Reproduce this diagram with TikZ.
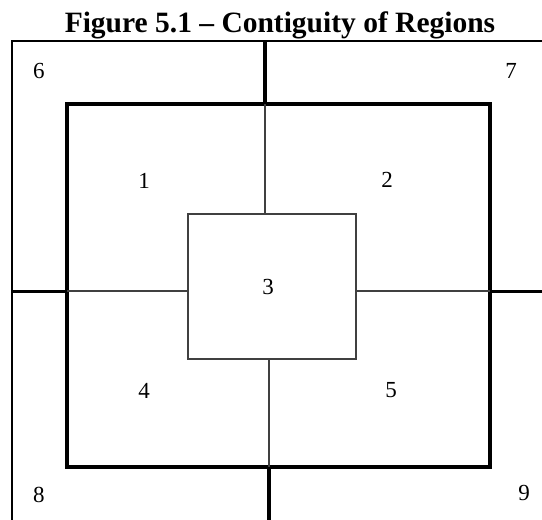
\documentclass[tikz,border=0pt]{standalone}
\usepackage{fontspec}
\setmainfont{Liberation Serif}
\begin{document}
\begin{tikzpicture}[x=1pt,y=-1pt,
  outerline/.style={line width=2.2pt,black},
  midline/.style={line width=3.6pt,black},
  innerline/.style={line width=1.6pt,black!75},
  lbl/.style={inner sep=0pt,font=\fontsize{23}{23}\selectfont}]
\useasboundingbox (0,0) rectangle (542,520);
\node[inner sep=0pt,anchor=base,font=\fontsize{29.5}{30}\selectfont\bfseries] (title) at (280,32) {Figure 5.1 – Contiguity of Regions};
% coordinates
\coordinate (oBL) at (12,520);
\coordinate (oTL) at (12,41);
\coordinate (oTR) at (542,41);
\coordinate (mTL) at (67,104);
\coordinate (mBR) at (490,467);
\coordinate (iTL) at (188,214);
\coordinate (iBR) at (356,359);
% outer frame
\draw[outerline] (oBL) -- (oTL) -- (oTR);
% middle box
\draw[midline] (mTL) rectangle (mBR);
% inner box
\draw[innerline] (iTL) rectangle (iBR);
% top divider
\draw[midline,line width=3.2pt] (265,41) -- (265,104);
\draw[innerline] (265,104) -- (265,214);
% bottom divider
\draw[innerline] (269,359) -- (269,467);
\draw[midline,line width=3.2pt] (269,467) -- (269,520);
% left divider
\draw[midline,line width=3pt] (12,291) -- (67,291);
\draw[innerline] (67,291) -- (188,291);
% right divider
\draw[innerline] (356,291) -- (490,291);
\draw[midline,line width=3pt] (490,291) -- (542,291);
% labels
\node[lbl] (r1) at (144,181) {1};
\node[lbl] (r2) at (387,180) {2};
\node[lbl] (r3) at (268,287) {3};
\node[lbl] (r4) at (144,391) {4};
\node[lbl] (r5) at (391,390) {5};
\node[lbl] (r6) at (39,71) {6};
\node[lbl] (r7) at (511,71) {7};
\node[lbl] (r8) at (39,495) {8};
\node[lbl] (r9) at (524,493) {9};
\end{tikzpicture}
\end{document}
